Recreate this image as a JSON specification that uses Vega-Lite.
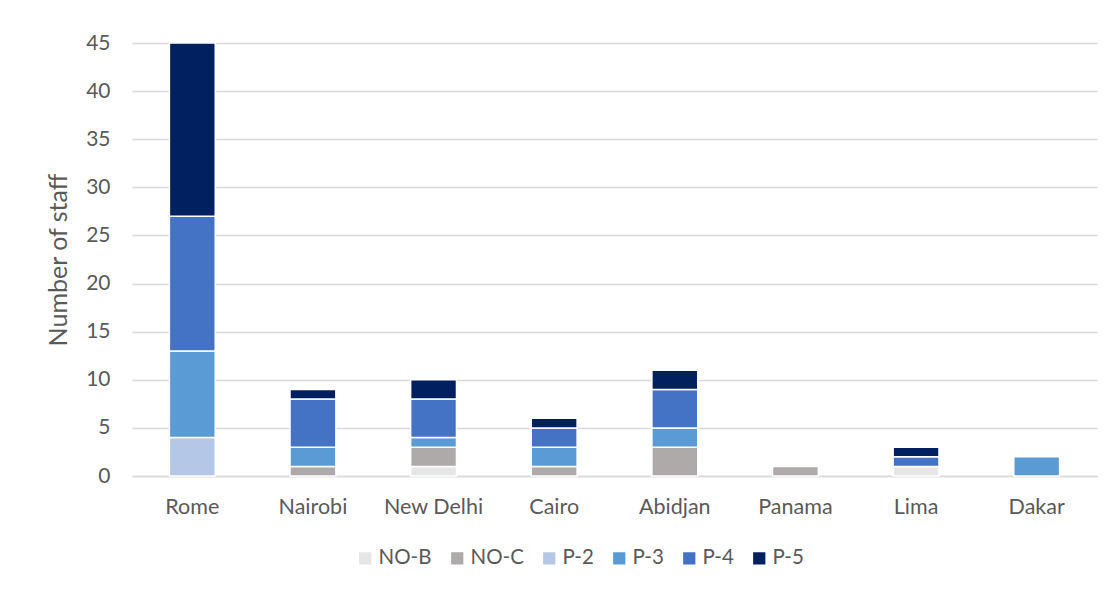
{
  "$schema": "https://vega.github.io/schema/vega-lite/v6.json",
  "autosize": {"type": "none"},
  "width": 965,
  "height": 433,
  "padding": {"left": 132, "top": 43, "right": 13, "bottom": 114},
  "background": "white",
  "config": {
    "font": "Lato",
    "view": {"stroke": null},
    "axis": {"labelFont": "Lato", "titleFont": "Lato", "labelColor": "#595959", "titleColor": "#595959"},
    "legend": {"labelFont": "Lato", "labelColor": "#595959"}
  },
  "data": {
    "values": [
      {"station": "Rome", "grade": "P-2", "staff": 4},
      {"station": "Rome", "grade": "P-3", "staff": 9},
      {"station": "Rome", "grade": "P-4", "staff": 14},
      {"station": "Rome", "grade": "P-5", "staff": 18},
      {"station": "Nairobi", "grade": "NO-C", "staff": 1},
      {"station": "Nairobi", "grade": "P-3", "staff": 2},
      {"station": "Nairobi", "grade": "P-4", "staff": 5},
      {"station": "Nairobi", "grade": "P-5", "staff": 1},
      {"station": "New Delhi", "grade": "NO-B", "staff": 1},
      {"station": "New Delhi", "grade": "NO-C", "staff": 2},
      {"station": "New Delhi", "grade": "P-3", "staff": 1},
      {"station": "New Delhi", "grade": "P-4", "staff": 4},
      {"station": "New Delhi", "grade": "P-5", "staff": 2},
      {"station": "Cairo", "grade": "NO-C", "staff": 1},
      {"station": "Cairo", "grade": "P-3", "staff": 2},
      {"station": "Cairo", "grade": "P-4", "staff": 2},
      {"station": "Cairo", "grade": "P-5", "staff": 1},
      {"station": "Abidjan", "grade": "NO-C", "staff": 3},
      {"station": "Abidjan", "grade": "P-3", "staff": 2},
      {"station": "Abidjan", "grade": "P-4", "staff": 4},
      {"station": "Abidjan", "grade": "P-5", "staff": 2},
      {"station": "Panama", "grade": "NO-C", "staff": 1},
      {"station": "Lima", "grade": "NO-B", "staff": 1},
      {"station": "Lima", "grade": "P-4", "staff": 1},
      {"station": "Lima", "grade": "P-5", "staff": 1},
      {"station": "Dakar", "grade": "P-3", "staff": 2}
    ]
  },
  "mark": {"type": "bar", "stroke": "white", "strokeWidth": 1.5},
  "encoding": {
    "x": {
      "field": "station",
      "type": "nominal",
      "sort": ["Rome", "Nairobi", "New Delhi", "Cairo", "Abidjan", "Panama", "Lima", "Dakar"],
      "scale": {"paddingInner": 0.62, "paddingOuter": 0.31},
      "axis": {
        "title": null,
        "labelAngle": 0,
        "labelFontSize": 21.5,
        "labelPadding": 20,
        "ticks": false,
        "domainColor": "#D9D9D9",
        "domainWidth": 1.5,
        "grid": false
      }
    },
    "y": {
      "field": "staff",
      "type": "quantitative",
      "aggregate": "sum",
      "scale": {"domain": [0, 45]},
      "axis": {
        "title": "Number of staff",
        "titleFontSize": 25,
        "titleFontWeight": "normal",
        "titlePadding": 14,
        "values": [0, 5, 10, 15, 20, 25, 30, 35, 40, 45],
        "labelFontSize": 21,
        "labelPadding": 22,
        "ticks": false,
        "domain": false,
        "gridColor": "#D9D9D9",
        "gridWidth": 1.5
      }
    },
    "order": {"field": "grade", "sort": "ascending"},
    "color": {
      "field": "grade",
      "type": "nominal",
      "scale": {
        "domain": ["NO-B", "NO-C", "P-2", "P-3", "P-4", "P-5"],
        "range": ["#E7E6E6", "#AEAAAA", "#B4C7E7", "#5B9BD5", "#4472C4", "#002060"]
      },
      "legend": {
        "title": null,
        "orient": "none",
        "legendX": 223,
        "legendY": 505,
        "direction": "horizontal",
        "symbolType": "square",
        "symbolSize": 150,
        "symbolStrokeWidth": 0,
        "labelFontSize": 20.5,
        "columnPadding": 15,
        "labelOffset": 3
      }
    }
  }
}
